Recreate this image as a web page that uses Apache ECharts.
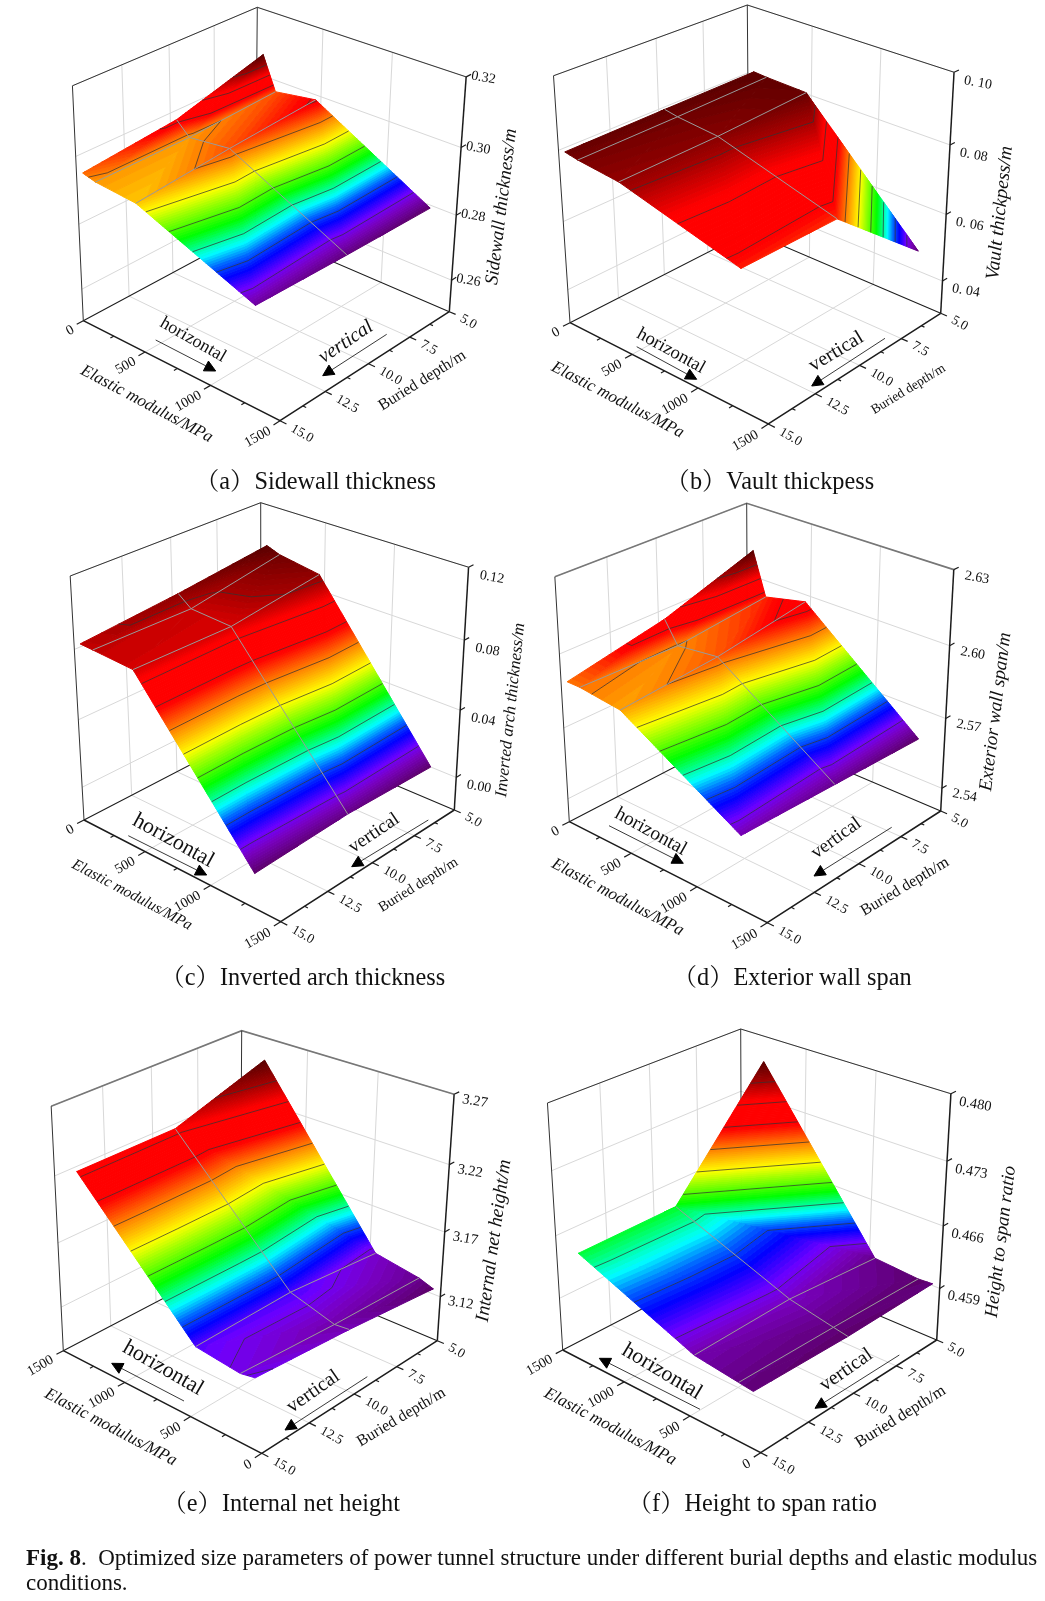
<!DOCTYPE html>
<html><head><meta charset="utf-8">
<style>html,body{margin:0;padding:0;background:#fff}#c{width:1045px;height:1601px}</style>
<script src="https://cdn.jsdelivr.net/npm/echarts@6/dist/echarts.min.js"></script>
</head><body><div id="c"></div>
<script>
// ---- data ----
const elasticModulus = [50, 150, 460, 1320];
const buriedDepth = [5, 10, 15];
const sidewall = [[0.3065,0.2965,0.2985,0.2791],[0.2988,0.2950,0.2965,0.2795],[0.2960,0.2950,0.2940,0.2802]];
const vault    = [[0.0810,0.0807,0.0803,0.0460],[0.0807,0.0800,0.0789,0.0691],[0.0803,0.0796,0.0784,0.0695]];
const invert   = [[0.0960,0.0931,0.0892,0.0000],[0.0895,0.0835,0.0820,0.0019],[0.0845,0.0841,0.0826,0.0000]];
const exterior = [[2.611,2.593,2.597,2.557],[2.598,2.589,2.591,2.5585],[2.590,2.590,2.588,2.560]];
const netHeight= [[3.124,3.128,3.134,3.253],[3.132,3.131,3.141,3.230],[3.138,3.136,3.140,3.230]];
const spanRatio= [[0.4592,0.4591,0.4595,0.4772],[0.4590,0.4593,0.4603,0.4653],[0.4592,0.4594,0.4600,0.4652]];
const eTicks = [0, 500, 1000, 1500];
const dTicks = [5, 7.5, 10, 12.5, 15];
const dLabels = ['5.0','7.5','10.0','12.5','15.0'];

// ---- layout of each panel (box corners on the page, annotations) ----
const SERIF = '"Liberation Serif","Noto Serif CJK SC","Noto Sans CJK SC",serif';
const panels = [
 {z:sidewall, rev:false, zr:[0.25,0.32], zt:[0.26,0.28,0.30,0.32], zl:['0.26','0.28','0.30','0.32'], zlOff:[-3,3], zlSize:14, top:['#333',1],
  back:[255.3,228.3], left:[83.3,320.7], front:[280,420.7], right:[449.3,311.7], backTop:[257.3,7.3], leftTop:[69.3,80.7], rightTop:[463.3,73.3],
  et:['Elastic modulus/MPa',146.7,404,-28,17], bt:['Buried depth/m',422.3,380.7,32,16], zt2:['Sidewall thickness/m',501.7,206.7,83,18.8],
  h:[193,340,-30,18,false], ha:[155.7,340,215.7,371], v:[346,342,34,20,true], va:[386.7,334.3,322.7,375.7],
  cap:['（a）Sidewall thickness',195,483]},
 {z:vault, rev:false, zr:[0.03,0.10], zt:[0.04,0.06,0.08,0.10], zl:['0. 04','0. 06','0. 08','0. 10'], zlOff:[2,12], zlSize:14, top:['#333',1],
  back:[749,231.3], left:[570,322.7], front:[768.3,424], right:[940.7,313.3], backTop:[747.3,5], leftTop:[556.7,79.3], rightTop:[957.3,71.7],
  et:['Elastic modulus/MPa',617.7,400,-27.5,17], bt:['Buried depth/m',908.3,389.3,31.5,13.5], zt2:['Vault thickpess/m',1000,213,84,19.3],
  h:[671,351,-29,18.5,false], ha:[636.7,346.7,696.7,379.3], v:[836.3,351.7,31,20,false], va:[885,338.3,811.7,386],
  cap:['（b）Vault thickpess',665.6,483]},
 {z:invert, rev:false, zr:[-0.02,0.12], zt:[0,0.04,0.08,0.12], zl:['0.00','0.04','0.08','0.12'], zlOff:[3,12], zlSize:14, top:['#333',1],
  back:[261,728], left:[84,820], front:[280.7,921.7], right:[454.3,810], backTop:[260.7,502.7], leftTop:[70,576], rightTop:[468.3,568.3],
  et:['Elastic modulus/MPa',132,895,-28,15.5], bt:['Buried depth/m',418.3,885,32,14.5], zt2:['Inverted arch thickness/m',510.7,710,84,17],
  h:[173.3,840.7,-29,22,false], ha:[128.3,835.7,206.7,875], v:[374,833.3,34,19,false], va:[428.3,820,351.7,866.7],
  cap:['（c）Inverted arch thickness',160.5,979]},
 {z:exterior, rev:false, zr:[2.53,2.63], zt:[2.54,2.57,2.60,2.63], zl:['2.54','2.57','2.60','2.63'], zlOff:[3,10], zlSize:14, top:['#777',1.6],
  back:[747.7,729], left:[569.3,821.7], front:[767.3,922.7], right:[940.7,811], backTop:[746.7,503.3], leftTop:[556,577.3], rightTop:[955,569.3],
  et:['Elastic modulus/MPa',617.7,897.3,-28,17], bt:['Buried depth/m',905,886.7,31,16], zt2:['Exterior wall span/m',995.7,711.7,83,18.9],
  h:[650.7,831.7,-29,19.5,false], ha:[609,825.7,683.3,863.3], v:[836.3,838.3,36,19,false], va:[891.7,827.3,814,876],
  cap:['（d）Exterior wall span',672.7,979]},
 {z:netHeight, rev:true, zr:[3.085,3.27], zt:[3.12,3.17,3.22,3.27], zl:['3.12','3.17','3.22','3.27'], zlOff:[0,9], zlSize:14.5, top:['#777',1.6],
  back:[240.3,1258], left:[63.3,1350.7], front:[261.7,1453.3], right:[437.3,1340.7], backTop:[241.7,1030.7], leftTop:[49,1105], rightTop:[451.7,1096.7],
  et:['Elastic modulus/MPa',110.7,1427.3,-28,17], bt:['Buried depth/m',401.3,1417.3,31,16], zt2:['Internal net height/m',494,1240.7,82,19.4],
  h:[163,1368.3,-30,22,false], ha:[184,1401,111.7,1363.3], v:[313.3,1391.7,35,20,false], va:[367.3,1376.7,285,1430],
  cap:['（e）Internal net height',162.5,1505]},
 {z:spanRatio, rev:true, zr:[0.453,0.480], zt:[0.459,0.466,0.473,0.480], zl:['0.459','0.466','0.473','0.480'], zlOff:[0,12], zlSize:14.5, top:['#333',1],
  back:[741.7,1257.3], left:[562.7,1350], front:[760.7,1452.7], right:[936.7,1340], backTop:[740.7,1029], leftTop:[548.3,1103.3], rightTop:[951.7,1095.7],
  et:['Elastic modulus/MPa',610.3,1426.7,-28,17], bt:['Buried depth/m',900.7,1416.7,32,16.5], zt2:['Height to span ratio',1001,1241.7,83,18.9],
  h:[662,1371.7,-31,22,false], ha:[700,1409.3,599.3,1358.3], v:[846.3,1370,35,20,false], va:[899.3,1355,815,1408.3],
  cap:['（f）Height to span ratio',627.8,1505]}
];
const figCaption = '{b|Fig. 8}.  Optimized size parameters of power tunnel structure under different burial depths and elastic modulus';
const figCaption2 = 'conditions.';

// ---- rainbow colour scale ----
const stops = [[0,'#5c0068'],[.07,'#7800c0'],[.11,'#7000ff'],[.17,'#0000ff'],[.22,'#0060ff'],[.27,'#00ffff'],[.36,'#00ff00'],[.45,'#a0ff00'],[.50,'#ffff00'],[.60,'#ff8000'],[.69,'#ff0000'],[.82,'#ff0000'],[.90,'#a80000'],[1,'#580000']];
function hex(c){return [1,3,5].map(i=>parseInt(c.substr(i,2),16));}
function colorAt(t){
  for(let i=1;i<stops.length;i++){ if(t<=stops[i][0]){
    const a=stops[i-1],b=stops[i],f=(t-a[0])/(b[0]-a[0]),x=hex(a[1]),y=hex(b[1]);
    return 'rgb('+x.map((v,k)=>Math.round(v+(y[k]-v)*f)).join(',')+')';
  }}
  return stops[stops.length-1][1];
}
// ---- projective camera fitted to the box corners ----
function det3(a){return a[0][0]*(a[1][1]*a[2][2]-a[1][2]*a[2][1])-a[0][1]*(a[1][0]*a[2][2]-a[1][2]*a[2][0])+a[0][2]*(a[1][0]*a[2][1]-a[1][1]*a[2][0]);}
function solve(c1,c2,c3,r){ // c1*x+c2*y+c3*z=r
  const M=(p,q,s)=>[[p[0],q[0],s[0]],[p[1],q[1],s[1]],[p[2],q[2],s[2]]];
  const d=det3(M(c1,c2,c3));
  return [det3(M(r,c2,c3))/d,det3(M(c1,r,c3))/d,det3(M(c1,c2,r))/d];
}
function camera(p){
  const h=q=>[q[0],q[1],1], o=h(p.back),pu=h(p.right),pv=h(p.left),puv=h(p.front),pw=h(p.backTop);
  const [a,b]=solve(pu,pv,puv.map(x=>-x),o);
  const c1=solve(pv,pw,h(p.leftTop).map(x=>-x),o)[1];
  const c2=solve(pu,pw,h(p.rightTop).map(x=>-x),o)[1];
  const c=(c1+c2)/2;
  const C1=pu.map((x,i)=>a*x-o[i]),C2=pv.map((x,i)=>b*x-o[i]),C3=pw.map((x,i)=>c*x-o[i]);
  return (u,v,w)=>{const X=[0,1,2].map(i=>u*C1[i]+v*C2[i]+w*C3[i]+o[i]);return [X[0]/X[2],X[1]/X[2]];};
}
function clip(poly,lim,above){
  const out=[],inside=q=>above?q[2]>=lim:q[2]<=lim;
  for(let i=0;i<poly.length;i++){
    const A=poly[i],B=poly[(i+1)%poly.length],ia=inside(A),ib=inside(B);
    if(ia)out.push(A);
    if(ia!==ib){const f=(lim-A[2])/(B[2]-A[2]);out.push([A[0]+(B[0]-A[0])*f,A[1]+(B[1]-A[1])*f,lim]);}
  }
  return out;
}
function buildItems(p){
  const cam=camera(p),items=[];
  const U=e=>p.rev?1-e/1500:e/1500, V=d=>(d-5)/10, W=z=>(z-p.zr[0])/(p.zr[1]-p.zr[0]);
  const P=(u,v,w)=>cam(u,v,w);
  const line=(pts,color,w)=>items.push({k:'line',pts,color,w});
  const G='#d8d8d8',K='#1c1c1c';
  // walls and floor
  p.zt.forEach(z=>{const w=W(z);line([P(0,1,w),P(0,0,w),P(1,0,w)],G,1);});
  [7.5,10,12.5].forEach(d=>{const v=V(d);line([P(0,v,0),P(0,v,1)],G,1);line([P(0,v,0),P(1,v,0)],G,1);});
  [500,1000].forEach(e=>{const u=e/1500;line([P(u,0,0),P(u,0,1)],G,1);line([P(u,0,0),P(u,1,0)],G,1);});
  line([P(0,1,1),P(0,0,1),P(1,0,1)],p.top[0],p.top[1]);
  line([P(0,1,0),P(0,1,1)],'#333',1);
  line([P(0,0,0),P(0,0,1)],'#333',1);
  line([P(0,1,0),P(0,0,0),P(1,0,0)],K,1.1);
  // surface triangles, back to front
  const all=p.z.flat(),zmin=Math.min(...all),zmax=Math.max(...all);
  const vert=(i,j)=>[U(elasticModulus[i]),V(buriedDepth[j]),p.z[j][i]];
  const tris=[];
  for(let j=0;j<buriedDepth.length-1;j++)for(let i=0;i<elasticModulus.length-1;i++){
    tris.push([vert(i,j),vert(i+1,j),vert(i+1,j+1)]);
    tris.push([vert(i,j),vert(i+1,j+1),vert(i,j+1)]);
  }
  tris.sort((s,t)=>{const c=x=>x.reduce((m,q)=>m+cam(q[0],q[1],0)[1],0);return c(s)-c(t);});
  const BANDS=110,LEVELS=10;
  tris.forEach(tr=>{
    for(let b=0;b<BANDS;b++){
      const lo=zmin+(zmax-zmin)*b/BANDS,hi=zmin+(zmax-zmin)*(b+1)/BANDS;
      let poly=clip(tr,lo,true); if(poly.length<3)continue;
      poly=clip(poly,hi,false); if(poly.length<3)continue;
      items.push({k:'poly',pts:poly.map(q=>P(q[0],q[1],W(q[2]))),fill:colorAt((b+.5)/BANDS)});
    }
  });
  // contour lines
  tris.forEach(tr=>{
    for(let l=1;l<LEVELS;l++){
      const L=zmin+(zmax-zmin)*l/LEVELS,seg=[];
      for(let n=0;n<3;n++){const A=tr[n],B=tr[(n+1)%3];
        if((A[2]<L)!==(B[2]<L)){const f=(L-A[2])/(B[2]-A[2]);seg.push(P(A[0]+(B[0]-A[0])*f,A[1]+(B[1]-A[1])*f,W(L)));}}
      if(seg.length===2)line(seg,'rgba(50,50,50,.8)',.9);
    }
  });
  // mesh lines across the surface
  const M='#9a9a9a';
  [1,2].forEach(i=>line(buriedDepth.map((d,j)=>{const q=vert(i,j);return P(q[0],q[1],W(q[2]));}),M,1));
  line(elasticModulus.map((e,i)=>{const q=vert(i,1);return P(q[0],q[1],W(q[2]));}),M,1);
  // front axes
  line([P(0,1,0),P(1,1,0),P(1,0,0)],K,1.5);
  line([P(1,0,0),P(1,0,1)],K,1.5);
  [0,250,500,750,1000,1250,1500].forEach(e=>{const u=U(e),maj=e%500===0;line([P(u,1,0),P(u,maj?1.035:1.018,0)],K,1.2);});
  [5,6.25,7.5,8.75,10,11.25,12.5,13.75,15].forEach(d=>{const v=V(d),maj=(d*2)%5===0;line([P(1,v,0),P(maj?1.03:1.015,v,0)],K,1.2);});
  p.zt.forEach(z=>line([P(1,0,W(z)),P(1,-0.03,W(z))],K,1.2));
  const text=(t,x,y,rot,size,italic,align)=>items.push({k:'text',t,x,y,rot,size,italic,align:align||'center'});
  eTicks.forEach(e=>{const q=P(U(e),1.07,0);text(String(e),q[0]+3,q[1]+1,30,14,false,'right');});
  dTicks.forEach((d,i)=>{const q=P(1.055,V(d),0);text(dLabels[i],q[0],q[1]+1,-30,13.5,false,'left');});
  p.zt.forEach((z,i)=>{const q=P(1,-0.05,W(z));text(p.zl[i],q[0]+p.zlOff[0],q[1]+p.zlOff[1],-10,p.zlSize,false,'left');});
  text(p.et[0],p.et[1],p.et[2],p.et[3],p.et[4],true);
  text(p.bt[0],p.bt[1],p.bt[2],p.bt[3],p.bt[4],false);
  text(p.zt2[0],p.zt2[1],p.zt2[2],p.zt2[3],p.zt2[4],true);
  text('horizontal',p.h[0],p.h[1],p.h[2],p.h[3],p.h[4]);
  text('vertical',p.v[0],p.v[1],p.v[2],p.v[3],p.v[4]);
  [p.ha,p.va].forEach(a=>{
    const dx=a[2]-a[0],dy=a[3]-a[1],n=Math.hypot(dx,dy),ux=dx/n,uy=dy/n,L=11,W2=5.5;
    line([[a[0],a[1]],[a[2]-ux*L,a[3]-uy*L]],'#222',.9);
    const bx=a[2]-ux*L,by=a[3]-uy*L;
    items.push({k:'poly',pts:[[a[2],a[3]],[bx-uy*W2,by+ux*W2],[bx+uy*W2,by-ux*W2]],fill:'#000'});
  });
  return items;
}
const chart=echarts.init(document.getElementById('c'),null,{renderer:'canvas'});
const series=panels.map(p=>{
  const items=buildItems(p);
  return {type:'custom',coordinateSystem:'cartesian2d',silent:true,animation:false,clip:false,progressive:0,
    data:items.map((_,i)=>[i]),encode:{x:0,y:0},
    renderItem:(params,api)=>{
      const it=items[params.dataIndex];
      const pts=it.pts&&it.pts.map(q=>api.coord(q));
      if(it.k==='poly')return {type:'polygon',shape:{points:pts},style:{fill:it.fill,stroke:it.fill,lineWidth:1,lineJoin:'round'}};
      if(it.k==='line')return {type:'polyline',shape:{points:pts},style:{stroke:it.color,lineWidth:it.w,fill:null}};
      const c=api.coord([it.x,it.y]);
      return {type:'text',x:c[0],y:c[1],rotation:it.rot*Math.PI/180,
        style:{text:it.t,x:0,y:0,fill:'#111',fontFamily:SERIF,fontSize:it.size,fontStyle:it.italic?'italic':'normal',align:it.align,verticalAlign:'middle'}};
    }};
});
const graphics=panels.map(p=>({type:'text',x:p.cap[1],y:p.cap[2],silent:true,
  style:{text:p.cap[0],fontFamily:SERIF,fontSize:24.3,fill:'#111',align:'left',verticalAlign:'middle'}}));
graphics.push({type:'text',x:26,y:1559,silent:true,style:{text:figCaption,fontFamily:SERIF,fontSize:23,fill:'#111',align:'left',verticalAlign:'middle',
  rich:{b:{fontFamily:SERIF,fontSize:23,fontWeight:'bold',fill:'#111'}}}});
graphics.push({type:'text',x:26,y:1584,silent:true,style:{text:figCaption2,fontFamily:SERIF,fontSize:23,fill:'#111',align:'left',verticalAlign:'middle'}});
chart.setOption({animation:false,backgroundColor:'#fff',
  grid:{left:0,right:0,top:0,bottom:0},
  xAxis:{type:'value',min:0,max:1045,show:false},
  yAxis:{type:'value',min:0,max:1601,inverse:true,show:false},
  series,graphic:graphics});
</script></body></html>
